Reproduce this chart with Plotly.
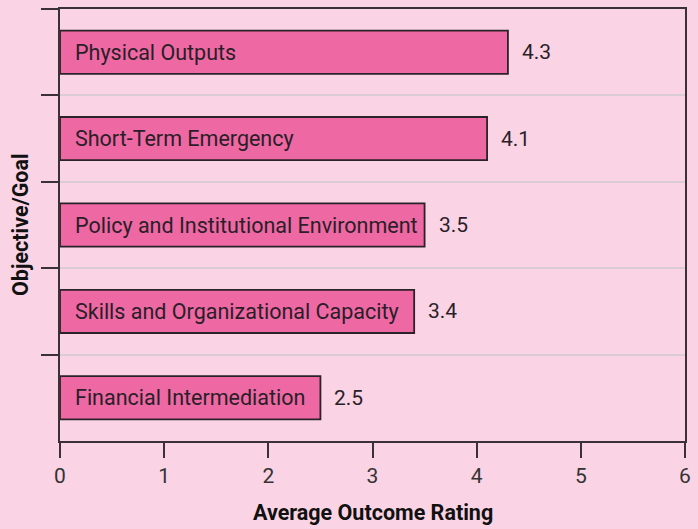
import plotly.graph_objects as go

categories = [
    "Physical Outputs",
    "Short-Term Emergency",
    "Policy and Institutional Environment",
    "Skills and Organizational Capacity",
    "Financial Intermediation",
]
values = [4.3, 4.1, 3.5, 3.4, 2.5]
value_labels = ["4.3", "4.1", "3.5", "3.4", "2.5"]
x_ticks = [0, 1, 2, 3, 4, 5, 6]

BG = "#FAD4E5"
BAR = "#EE68A3"
DARK = "#2A2228"
FONT = "Roboto"

fig = go.Figure()
fig.add_trace(go.Bar(
    x=values, y=categories, orientation="h", width=0.5,
    marker=dict(color=BAR, line=dict(color=DARK, width=1.8)),
    hoverinfo="skip",
))

ann = []
for c, v, lab in zip(categories, values, value_labels):
    ann.append(dict(x=0, y=c, xref="x", yref="y", text=c, showarrow=False,
                    xanchor="left", xshift=13,
                    font=dict(family=FONT, size=21.5, color="#2A1E28")))
    ann.append(dict(x=v, y=c, xref="x", yref="y", text=lab, showarrow=False,
                    xanchor="left", xshift=12,
                    font=dict(family=FONT, size=21, color="#2A1E28")))
ann.append(dict(x=0.5, y=0, xref="paper", yref="paper", text="<b>Average Outcome Rating</b>",
                showarrow=False, xanchor="center", yanchor="middle", yshift=-71,
                font=dict(family=FONT, size=21.5, color="#111111")))
ann.append(dict(x=0, y=0.5, xref="paper", yref="paper", text="<b>Objective/Goal</b>",
                showarrow=False, xanchor="center", yanchor="middle", xshift=-40, textangle=-90,
                font=dict(family=FONT, size=21.5, color="#111111")))

fig.update_layout(
    width=698, height=529,
    margin=dict(l=60, r=11, t=7, b=88),
    paper_bgcolor=BG, plot_bgcolor=BG,
    showlegend=False,
    annotations=ann,
    xaxis=dict(range=[0, 6], tickvals=x_ticks, ticktext=[str(t) for t in x_ticks],
               showgrid=False, zeroline=False,
               showline=True, linecolor="#3A3136", linewidth=2, mirror=True,
               ticks="outside", ticklen=15, tickwidth=2, tickcolor="#3A3136",
               tickfont=dict(family=FONT, size=21, color="#333333")),
    yaxis=dict(autorange="reversed", tickson="boundaries", showticklabels=False,
               showgrid=True, gridcolor="#D9CDD3", gridwidth=2,
               showline=True, linecolor="#3A3136", linewidth=2, mirror=True,
               ticks="outside", ticklen=17, tickwidth=2, tickcolor="#3A3136"),
)

fig.write_html("out.html", config={"displayModeBar": False},
               post_script="document.body.style.margin='0';document.body.style.padding='0';document.body.style.overflow='hidden';")
